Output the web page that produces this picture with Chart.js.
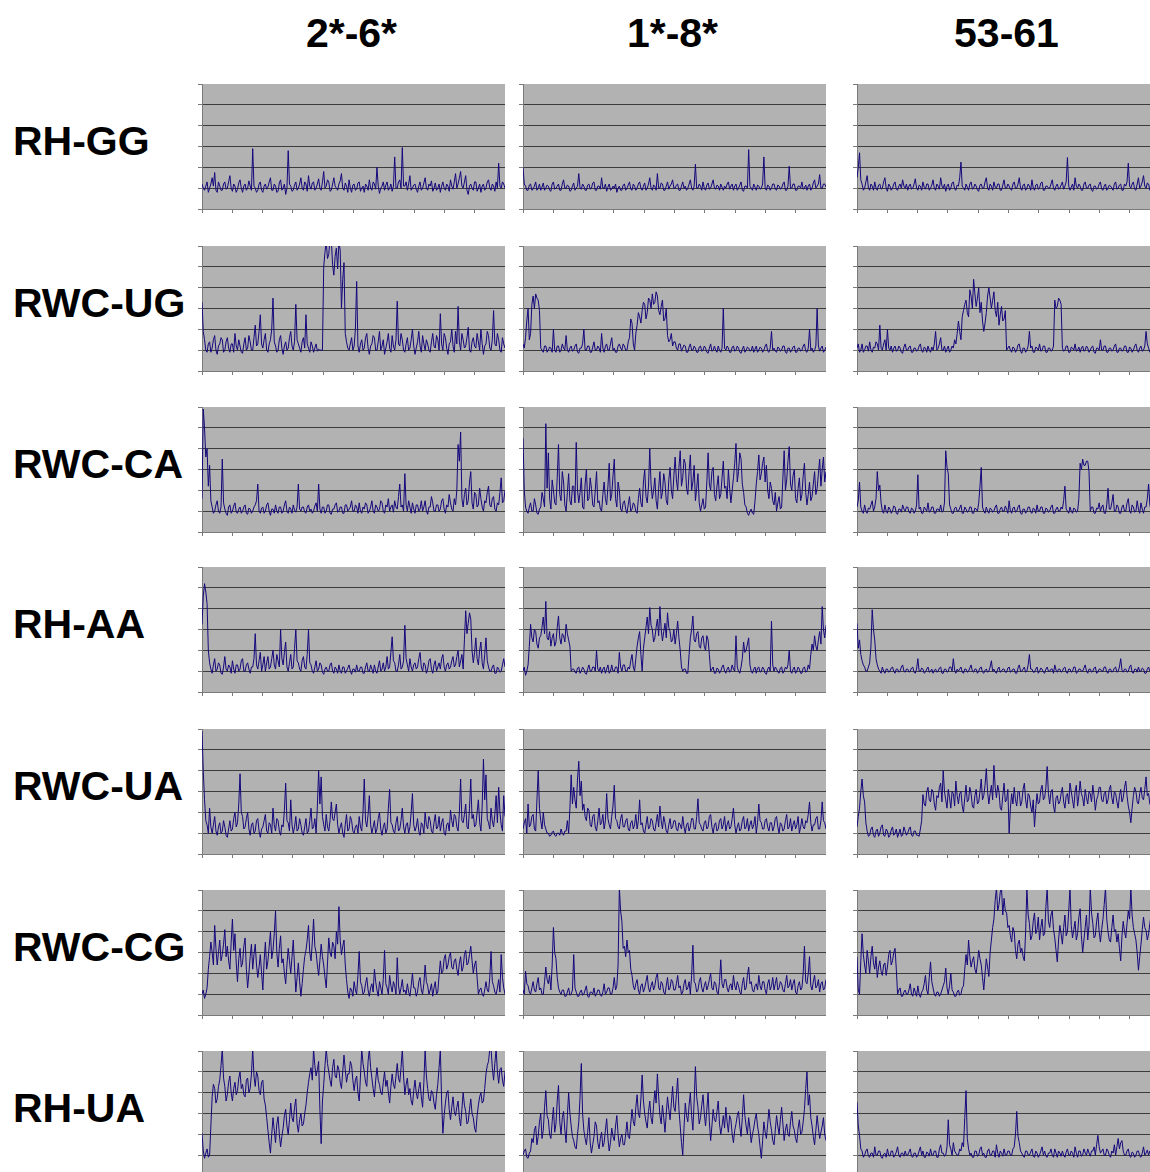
<!DOCTYPE html>
<html>
<head>
<meta charset="utf-8">
<script src="https://cdn.jsdelivr.net/npm/chart.js@4.4.1/dist/chart.umd.min.js"></script>
<style>
  body { margin: 0; background: #fff; width: 1150px; height: 1172px; overflow: hidden; position: relative; }
  .lbl { position: absolute; font: bold 41px "Liberation Sans", Arial, sans-serif; line-height: 41px; color: #000; white-space: nowrap; }
  .col { text-align: center; width: 200px; }
  canvas { position: absolute; }
</style>
</head>
<body>
<script>
// column / row headings
var columns = ['2*-6*', '1*-8*', '53-61'];
var rows = ['RH-GG', 'RWC-UG', 'RWC-CA', 'RH-AA', 'RWC-UA', 'RWC-CG', 'RH-UA'];

// RH-GG
var gg_26 = [1.2,1.0,0.9,1.1,1.3,0.8,1.0,1.2,1.5,1.1,1.75,0.9,0.8,1.3,1.1,0.9,0.9,1.2,1.3,0.95,1.0,1.3,1.6,1.0,0.85,1.2,1.1,0.8,0.95,1.25,1.4,1.0,0.8,1.1,1.2,0.9,1.0,1.35,1.1,0.9,
  2.9,1.1,1.0,0.8,0.9,1.2,1.3,0.9,0.8,1.1,1.2,0.95,1.05,1.3,1.5,0.9,0.9,1.2,1.1,0.8,0.85,1.25,1.4,0.9,1.0,1.2,0.7,1.0,2.8,1.2,1.1,0.85,0.9,1.15,1.3,0.9,1.0,1.2,1.5,1.0,
  0.9,1.3,1.2,0.85,1.6,1.1,0.95,1.25,1.3,0.9,1.0,1.2,1.45,1.0,0.9,1.3,1.8,1.0,1.1,1.4,1.3,0.85,0.9,1.2,1.5,1.1,1.0,0.9,1.2,1.35,1.7,1.0,0.9,1.25,1.1,0.8,1.4,1.0,0.8,1.15,
  1.2,0.9,0.95,1.25,1.3,0.85,1.0,1.1,0.8,1.2,1.1,0.9,1.4,1.0,0.9,1.3,1.2,0.95,2.0,1.1,0.75,1.0,1.1,1.3,0.9,1.15,1.3,0.9,1.0,1.2,0.85,1.1,2.5,1.0,1.0,1.3,1.4,1.0,2.95,1.1,
  1.1,1.3,0.9,1.2,1.6,0.9,1.0,1.15,1.2,0.95,0.8,1.1,1.3,0.9,1.0,1.25,1.5,1.0,0.9,1.2,1.1,1.35,0.85,1.0,1.25,0.9,1.0,1.2,0.8,1.1,1.3,1.0,0.9,1.2,1.1,0.85,1.4,1.1,0.95,1.3,
  1.7,1.0,1.2,1.5,1.8,1.1,1.0,1.3,1.6,0.9,0.7,1.1,1.2,1.0,0.9,1.3,1.3,0.85,1.0,1.2,0.8,1.1,1.2,0.9,1.0,1.3,1.4,1.0,0.9,1.2,1.1,0.85,1.3,1.0,2.2,1.1,1.0,1.3,1.2,1.0];
var gg_18 = [2.0,1.2,1.1,0.9,0.9,1.15,1.2,0.9,0.95,1.1,1.3,0.9,1.0,1.2,0.9,1.05,1.25,0.9,1.0,1.15,1.1,0.9,0.85,1.2,1.3,0.95,1.0,1.1,1.2,0.9,0.9,1.2,1.4,1.0,1.0,1.15,1.1,0.85,0.9,1.1,
  1.25,0.9,1.0,1.1,1.7,1.0,0.95,1.2,1.1,0.9,0.9,1.15,1.2,0.95,1.0,1.25,1.3,0.9,0.9,1.1,1.1,0.95,1.5,1.0,1.0,1.2,0.85,1.05,1.2,0.9,0.95,1.1,1.0,1.2,0.8,1.0,1.1,0.9,0.9,1.15,
  1.2,0.9,1.0,1.15,1.3,0.95,0.9,1.2,1.1,0.9,1.0,1.2,1.3,1.0,0.9,1.1,1.25,0.9,1.0,1.2,1.5,1.0,0.9,1.15,1.1,0.9,1.7,1.0,1.0,1.25,1.2,0.9,0.9,1.1,1.3,0.95,1.1,1.2,1.4,1.0,
  1.0,1.15,1.2,0.9,0.9,1.1,1.3,1.0,1.1,0.9,1.0,1.2,1.4,1.0,0.9,1.1,2.15,1.0,1.0,1.2,1.1,0.9,1.3,1.0,0.9,1.15,1.25,0.95,1.0,1.2,1.4,1.0,0.95,1.15,1.1,0.9,1.2,1.05,0.9,1.1,
  1.0,1.2,1.3,0.95,1.1,1.2,0.9,1.1,1.2,0.9,1.0,1.15,1.3,0.9,0.85,1.1,1.1,1.0,2.85,1.1,1.0,0.9,1.2,1.05,0.9,1.15,1.1,0.95,1.0,1.2,2.5,1.0,0.9,1.15,1.1,0.9,1.0,1.2,1.2,0.95,
  0.9,1.15,1.1,0.95,1.0,1.2,1.3,0.9,0.9,1.1,2.05,1.0,1.0,1.2,1.2,0.9,0.9,1.1,1.1,1.0,1.3,0.95,1.0,1.15,0.9,1.1,1.2,0.9,1.0,1.25,1.4,1.0,1.1,1.2,1.65,1.0,1.0,1.2,1.2,1.05];
var gg_5361 = [1.5,2.0,2.7,1.4,1.2,0.9,1.0,1.3,1.6,1.0,0.9,1.2,1.1,0.9,1.3,1.0,0.9,1.15,1.2,0.95,1.0,1.3,1.5,1.0,0.85,1.2,1.1,0.9,1.0,1.2,1.3,0.95,0.9,1.1,1.2,1.0,1.4,1.1,1.0,1.2,
  0.9,1.1,1.2,0.95,1.0,1.2,1.45,1.0,0.9,1.15,1.1,0.9,1.3,1.05,0.95,1.2,1.2,0.9,1.0,1.15,1.4,1.0,0.9,1.2,1.1,0.95,1.5,1.1,1.0,1.2,0.85,1.1,1.2,0.9,1.0,1.25,1.3,0.95,0.9,1.15,
  1.1,1.5,2.25,1.1,1.0,0.9,1.2,1.05,0.9,1.2,1.3,0.95,1.0,1.2,1.1,0.9,0.85,1.15,1.2,1.0,1.0,1.3,1.5,1.0,0.9,1.2,1.1,0.9,1.3,1.05,1.0,1.2,1.2,0.9,0.9,1.15,1.4,1.0,1.0,1.2,
  1.1,0.95,0.9,1.2,1.3,1.0,1.0,1.2,1.5,1.0,0.9,1.15,1.2,0.9,1.0,1.2,1.1,0.9,1.4,1.0,0.9,1.15,1.2,0.95,1.0,1.25,1.3,0.9,0.9,1.1,1.1,1.0,1.0,1.2,1.4,1.0,0.9,1.1,1.2,0.95,
  1.0,1.15,1.3,0.95,1.1,1.3,2.47,1.1,0.9,1.05,1.2,0.9,1.5,1.1,1.0,1.2,1.1,0.9,0.9,1.2,1.3,1.0,1.0,1.15,1.2,0.9,0.85,1.1,1.1,0.95,1.0,1.2,1.3,0.95,0.9,1.1,1.2,0.9,1.0,1.15,
  1.1,1.0,0.9,1.2,1.3,0.95,1.0,1.15,1.2,0.9,0.9,1.2,1.1,1.3,2.2,1.1,1.0,1.2,1.3,0.95,0.9,1.2,1.5,1.0,1.1,1.3,1.6,1.1,1.0,1.25,1.2,0.9,0.9,1.15,1.4,1.0,1.1,1.3,1.3,1.0];

// RWC-UG
var ug_26 = [3.3,1.9,1.5,1.0,0.9,1.3,1.4,0.9,1.1,1.5,1.7,1.0,0.8,1.2,1.3,1.6,1.5,0.9,1.0,1.4,1.6,1.1,0.9,1.3,1.3,0.9,1.8,1.2,1.0,1.5,1.2,0.9,0.85,1.3,1.6,1.0,1.1,1.7,1.4,1.0,
  1.0,1.6,2.2,1.2,1.3,1.9,2.7,1.3,1.1,1.5,1.8,1.0,0.9,1.3,1.5,2.0,3.5,1.4,1.2,0.9,1.0,1.5,1.7,1.1,0.8,1.2,1.4,1.0,1.1,1.6,1.9,1.2,1.0,1.4,3.2,1.5,1.3,1.1,0.9,1.4,
  1.6,1.1,2.7,1.3,1.1,0.9,1.4,1.2,0.9,1.1,1.3,0.95,1.05,1.0,1.0,1.0,5.0,5.7,6.2,5.4,5.6,6.4,6.3,5.1,4.6,5.5,5.9,4.9,6.2,5.8,3.0,4.4,5.2,1.8,1.4,1.1,1.0,1.3,1.6,1.0,
  1.2,2.0,4.3,1.2,0.9,1.3,1.5,1.0,1.1,1.6,1.8,1.1,0.8,1.2,1.3,1.7,1.6,1.0,1.0,1.4,1.9,1.0,1.2,1.5,0.8,1.1,1.4,1.8,1.1,0.9,1.7,1.2,1.0,1.5,3.35,1.3,1.2,1.8,1.5,1.0,
  0.9,1.3,1.6,1.0,1.1,1.5,2.0,1.2,0.8,1.1,1.4,1.9,1.2,0.9,1.7,1.3,1.0,1.5,1.3,1.0,0.9,1.4,1.8,1.2,1.1,1.7,1.5,1.0,2.75,1.3,1.0,1.8,1.6,1.1,0.8,1.3,1.4,2.0,1.2,0.9,
  1.9,1.3,3.1,1.4,1.0,1.8,1.5,1.1,1.2,1.6,2.1,1.0,0.9,1.4,1.6,1.2,1.1,1.8,1.4,1.0,2.0,1.3,0.8,1.2,1.3,1.9,1.7,1.1,1.0,1.5,2.9,1.3,1.2,1.8,1.5,1.0,0.9,1.6,1.3,1.1];
var ug_18 = [1.3,1.1,1.6,2.4,3.0,1.5,1.8,3.2,3.6,3.0,3.7,3.5,3.4,2.9,1.1,1.0,0.9,1.2,1.2,0.9,1.0,1.15,1.1,0.9,2.0,1.0,0.9,1.2,1.2,0.9,1.0,1.3,1.1,1.0,1.7,1.0,0.9,1.1,1.2,0.95,
  1.0,1.2,1.3,0.9,0.85,1.1,1.1,1.3,2.0,1.0,1.0,1.2,1.2,0.9,0.9,1.15,1.4,1.0,1.0,1.2,1.1,0.9,1.8,1.1,0.9,1.2,1.3,1.0,1.0,1.3,1.6,1.0,1.1,0.9,0.9,1.2,1.3,1.1,1.0,1.3,
  1.2,1.0,1.0,1.4,1.6,2.5,2.3,1.3,1.0,1.8,2.2,2.8,2.6,2.3,2.9,3.3,3.2,2.5,2.8,3.5,3.4,3.0,3.7,3.2,3.3,3.8,3.6,2.9,2.7,3.1,3.4,2.4,2.5,3.0,1.7,1.4,1.5,1.8,1.2,1.4,
  1.4,1.1,1.0,1.3,1.3,0.95,1.1,1.25,1.2,0.9,0.9,1.15,1.3,1.0,1.0,1.2,1.1,0.9,0.9,1.15,1.2,0.95,1.0,1.2,1.1,0.9,0.85,1.1,1.3,0.95,1.0,1.2,1.0,0.9,1.2,1.0,0.9,1.1,3.0,1.1,
  1.0,1.2,1.1,0.9,0.9,1.15,1.2,0.95,1.0,1.2,1.1,0.9,0.85,1.05,1.2,0.9,1.0,1.15,1.1,0.95,1.0,1.2,0.9,1.05,1.2,0.9,1.0,1.15,1.1,0.9,1.0,1.2,1.3,0.95,0.9,1.1,1.9,1.0,1.1,0.95,
  0.9,1.15,1.1,0.95,1.0,1.2,1.2,0.9,0.85,1.1,1.1,0.9,1.0,1.15,1.2,0.9,0.9,1.1,1.1,0.95,1.0,1.2,1.3,0.95,0.9,1.1,2.0,1.0,1.1,0.9,1.0,1.2,3.0,1.2,0.95,1.1,1.2,0.9,1.0,1.15];
var ug_5361 = [1.1,1.3,0.9,1.0,1.3,0.9,1.0,1.2,1.2,0.95,1.4,1.0,0.9,1.15,1.1,1.4,1.3,1.0,2.2,1.1,1.0,1.3,1.5,1.0,2.0,1.1,1.0,1.2,0.9,1.1,1.2,0.95,1.0,1.2,1.1,0.9,0.85,1.15,1.3,1.0,
  1.0,1.15,1.2,0.9,0.9,1.1,1.1,0.95,1.0,1.2,1.3,0.95,0.9,1.15,1.1,0.9,1.2,1.0,0.9,1.15,1.0,1.3,1.9,1.0,1.1,1.3,1.6,1.0,1.0,1.2,0.9,1.05,1.2,0.9,1.0,1.2,1.1,1.5,1.3,1.8,
  2.4,1.9,1.5,2.6,2.9,3.2,3.4,2.8,2.6,3.9,3.6,3.0,4.4,3.7,3.1,3.5,4.0,2.8,3.3,2.4,1.9,2.3,2.8,3.6,4.0,3.5,3.0,3.4,3.8,2.9,2.6,3.3,2.2,2.7,3.1,2.4,2.5,2.9,1.0,1.1,
  1.2,1.0,0.9,1.15,1.1,0.9,1.0,1.25,1.3,0.95,0.85,1.1,1.1,0.9,1.0,1.2,1.9,1.1,1.2,0.9,0.9,1.15,1.1,1.0,1.3,0.95,1.0,1.2,1.2,0.9,0.9,1.1,1.1,0.95,1.0,1.2,3.4,3.0,3.1,3.5,
  3.4,3.2,1.1,0.95,1.0,1.2,1.2,0.9,0.9,1.15,1.1,1.0,1.3,0.95,1.0,1.15,0.9,1.1,1.2,0.95,1.0,1.2,1.1,0.9,1.0,1.15,1.2,0.9,0.85,1.1,1.1,1.0,1.5,1.0,1.0,1.2,1.2,0.9,0.9,1.1,
  1.1,0.95,1.0,1.2,1.3,0.9,0.9,1.1,1.1,0.95,1.0,1.2,1.2,0.9,0.9,1.15,1.1,0.9,1.0,1.2,1.3,1.0,0.9,1.1,1.2,0.95,1.0,1.2,1.9,1.3,1.1,0.9,0.9,1.15,1.2,0.95,1.0,1.2,1.1,1.0];

// RWC-CA
var ca_26 = [1.6,5.9,5.0,3.6,4.0,2.2,3.2,1.5,1.2,0.9,1.0,1.3,1.5,1.0,0.9,1.2,3.5,1.4,1.1,0.9,0.8,1.2,1.3,0.9,1.0,1.25,1.4,0.95,0.9,1.1,1.2,0.9,1.0,1.2,1.3,0.9,0.85,1.15,1.1,0.9,
  1.0,1.2,1.3,1.5,2.3,1.0,0.9,1.15,1.2,0.9,1.0,1.3,1.4,1.0,0.8,1.1,1.1,0.9,1.3,1.0,0.9,1.2,1.2,0.9,1.0,1.3,1.5,1.0,0.9,1.2,1.1,0.9,1.3,1.05,0.95,1.2,2.3,1.1,1.0,1.2,
  1.2,0.95,0.9,1.2,1.3,1.0,1.1,0.9,1.0,1.25,1.4,1.0,2.3,1.1,0.9,1.2,1.2,0.9,1.0,1.3,1.3,0.9,0.85,1.1,1.1,1.3,1.4,0.95,1.0,1.2,1.2,0.9,0.9,1.3,1.3,1.0,1.1,1.2,1.5,1.0,
  1.0,1.3,1.2,0.9,1.4,1.0,0.9,1.2,1.1,1.4,1.3,0.9,1.0,1.2,1.5,1.0,0.9,1.3,1.2,1.0,1.1,1.5,1.4,1.0,0.9,1.3,1.2,1.6,1.0,1.2,1.3,0.95,1.5,1.2,1.1,1.7,2.3,1.2,1.3,1.0,
  2.8,1.3,1.0,1.5,1.2,0.9,1.4,1.1,0.9,1.3,1.3,1.0,1.1,1.5,1.0,1.2,1.5,1.0,0.85,1.2,1.2,1.7,1.4,1.0,1.0,1.3,1.3,1.0,1.1,1.5,1.6,1.1,0.9,1.3,1.2,1.8,1.4,1.1,1.0,1.6,
  1.3,2.0,4.2,3.4,4.8,1.6,1.2,1.8,2.1,1.3,1.5,2.4,2.9,1.4,1.1,1.9,1.8,1.2,1.3,2.1,1.6,1.2,1.0,1.5,1.4,1.9,2.2,1.3,1.2,1.6,1.7,1.1,1.0,1.4,1.3,1.9,2.6,1.4,1.5,2.0];
var ca_18 = [4.5,2.0,1.2,1.0,0.9,1.2,1.4,1.0,1.0,1.6,1.3,0.9,0.85,1.1,1.2,1.9,1.6,1.2,5.2,2.1,3.8,1.6,1.1,2.5,2.0,1.4,1.3,2.6,4.2,1.8,1.5,2.9,2.4,1.3,1.0,1.9,2.8,1.5,1.3,2.2,
  2.2,1.4,4.3,2.0,1.4,1.9,2.6,1.2,1.1,2.3,3.0,1.5,1.6,2.6,2.1,1.3,1.2,2.0,2.9,1.4,1.5,1.1,1.0,1.8,2.4,1.6,1.3,2.2,3.3,1.5,1.8,2.7,3.5,1.6,1.2,2.4,2.0,1.1,1.0,1.4,
  1.5,1.1,0.9,1.3,1.7,1.0,1.1,1.4,1.3,1.0,0.9,1.6,2.1,1.4,1.2,2.4,3.0,1.7,1.4,2.2,4.0,2.3,1.6,2.0,2.6,1.5,1.1,2.1,2.9,1.6,1.9,2.8,2.4,1.5,1.3,2.5,3.1,2.0,1.6,2.7,
  3.6,2.5,2.0,3.1,3.9,2.2,2.6,3.5,3.3,2.1,1.8,2.9,3.7,2.0,2.4,3.2,1.5,2.1,2.8,1.4,1.0,1.3,1.6,1.1,1.2,2.4,3.8,2.3,2.0,2.9,3.1,1.8,1.5,2.2,2.7,1.6,1.8,2.6,3.4,2.1,
  2.2,1.6,3.0,2.1,1.4,2.0,2.6,3.3,4.25,2.4,2.9,3.8,3.5,2.3,1.9,1.3,1.2,0.9,0.8,1.0,1.1,0.9,0.85,1.5,2.3,2.9,3.7,2.5,2.8,3.3,3.6,2.4,3.2,2.0,1.6,2.4,2.1,1.5,1.3,1.9,
  1.0,1.4,1.7,1.1,1.2,2.6,3.9,2.0,2.5,3.4,4.1,2.3,2.0,2.7,3.0,1.6,1.4,2.1,2.6,1.5,1.8,2.7,3.3,1.9,1.3,1.8,2.4,1.5,1.7,2.3,2.9,1.8,2.1,2.8,3.5,2.2,3.0,3.6,2.4,2.9];
var ca_5361 = [1.2,1.5,2.4,1.2,1.0,0.9,1.3,1.0,0.9,1.15,1.1,1.3,1.5,1.0,1.2,1.6,2.9,2.0,2.25,1.4,1.0,0.9,1.3,1.0,0.9,1.2,1.1,0.9,1.0,1.25,1.2,0.9,0.85,1.1,1.1,0.95,1.3,1.1,1.0,1.2,
  1.2,0.95,0.9,1.15,1.1,0.9,1.0,1.3,2.75,1.1,1.2,0.9,0.9,1.2,1.1,1.0,1.4,0.95,1.0,1.2,1.2,0.9,0.9,1.1,1.1,1.0,1.3,0.95,1.0,1.4,3.9,3.1,2.8,1.3,1.1,0.9,0.9,1.15,1.2,1.0,
  1.0,1.15,1.3,0.9,0.9,1.2,1.1,0.95,1.0,1.2,1.2,0.9,0.9,1.15,1.1,1.0,1.4,2.2,3.1,1.2,1.0,0.9,1.2,1.0,0.9,1.15,1.1,0.95,1.0,1.2,1.3,0.9,0.9,1.1,1.2,1.0,1.0,1.25,1.1,0.9,
  1.5,1.0,0.9,1.15,1.2,0.95,1.0,1.2,1.3,0.9,0.85,1.1,1.1,0.9,1.0,1.2,1.2,0.95,0.9,1.15,1.1,0.9,1.3,1.0,1.0,1.2,1.2,0.9,0.9,1.15,1.1,0.95,1.0,1.2,1.3,0.9,0.9,1.1,1.2,1.0,
  1.0,1.2,1.1,1.5,2.2,1.1,1.0,0.9,1.2,1.0,0.9,1.15,1.1,0.95,1.0,1.6,3.3,3.0,3.5,3.2,3.2,3.4,3.4,2.9,1.0,1.2,1.2,0.9,0.9,1.15,1.1,1.4,1.0,1.2,1.3,0.9,0.9,1.3,2.1,1.1,
  1.1,1.4,1.8,1.0,1.0,1.3,1.2,0.9,0.9,1.2,1.3,1.0,1.0,1.4,1.6,1.0,0.9,1.3,1.2,0.95,1.0,1.5,1.1,0.9,1.4,1.1,0.9,1.2,1.2,1.6,2.3,1.3,1.0,1.4,1.5,1.0,0.85,1.3,1.2,1.7];

// RH-AA
var aa_26 = [3.25,4.6,5.2,4.8,4.25,2.0,1.4,1.1,0.9,1.3,1.6,1.0,1.1,1.4,1.3,0.9,0.85,1.2,1.7,1.1,1.0,1.3,1.2,0.9,1.5,1.1,0.9,1.3,1.3,1.0,1.1,1.5,1.6,1.0,1.0,1.3,1.4,1.1,0.9,1.2,
  1.2,1.6,2.8,1.3,1.1,1.5,1.9,1.0,1.3,1.7,1.0,1.4,1.7,1.1,1.2,1.6,2.0,1.3,1.1,1.8,1.5,1.2,3.0,1.6,1.3,1.9,2.4,1.2,1.0,1.4,1.8,1.1,1.2,2.1,3.0,1.5,1.4,1.1,1.0,1.5,
  1.7,1.2,1.1,1.8,3.0,1.4,1.3,1.0,0.9,1.2,1.5,1.0,1.1,1.4,1.3,0.95,0.85,1.1,1.2,1.0,1.0,1.3,1.4,1.0,0.9,1.2,1.1,0.9,1.3,1.0,0.9,1.2,1.2,0.9,1.0,1.15,1.3,1.0,0.85,1.1,
  1.1,0.95,1.3,1.0,1.0,1.2,1.2,0.9,0.9,1.2,1.4,1.0,1.0,1.3,1.1,0.9,1.3,1.0,0.9,1.2,1.5,1.0,1.1,1.4,1.0,1.2,1.7,1.1,1.2,1.9,2.65,1.5,1.4,1.0,1.0,1.3,1.8,1.1,1.2,1.5,
  3.2,1.6,1.3,1.0,1.6,1.2,1.0,1.3,1.4,1.1,1.2,1.6,1.9,1.2,1.0,1.4,1.3,0.9,1.1,1.5,1.6,1.1,0.9,1.3,1.5,1.0,1.2,1.4,1.1,1.6,1.8,1.2,1.0,1.3,1.4,1.1,1.2,1.5,1.7,1.2,
  1.3,1.7,2.0,1.2,1.5,1.8,1.1,2.5,3.9,2.8,3.3,3.8,3.5,2.0,1.4,1.9,2.6,1.6,1.3,2.0,2.4,1.4,1.1,1.8,2.6,1.5,1.2,1.0,1.0,1.2,1.3,0.9,0.9,1.2,1.1,0.95,1.0,1.3,1.6,1.2];
var aa_18 = [1.0,1.2,0.8,1.0,1.3,2.2,3.25,2.6,2.4,3.0,2.9,2.3,2.1,2.6,2.7,3.1,3.6,2.8,4.35,2.6,2.5,2.9,2.2,2.6,2.8,2.2,2.4,3.1,3.65,2.6,2.3,2.8,2.7,2.4,3.25,2.8,2.5,2.2,1.0,1.1,
  1.1,0.95,0.9,1.15,1.2,0.9,1.0,1.2,1.1,0.9,0.85,1.1,1.3,1.0,1.0,1.2,1.2,1.0,2.0,1.1,1.0,1.2,0.9,1.1,1.2,0.9,1.1,1.3,0.9,1.0,1.3,1.0,1.0,1.2,1.2,0.9,1.9,1.2,1.0,1.3,
  1.3,1.0,1.0,1.2,1.1,1.5,1.8,1.2,1.0,1.6,2.2,2.6,2.9,1.8,1.0,2.1,2.6,3.1,3.6,2.8,4.05,3.2,3.0,2.4,2.6,3.1,3.5,2.7,4.1,3.0,2.45,2.9,3.3,2.6,3.8,3.1,2.9,2.4,2.5,3.0,
  2.3,2.8,3.4,2.6,2.0,1.2,1.0,1.1,1.1,0.9,0.9,1.8,2.6,3.0,3.65,2.5,2.4,2.8,2.9,2.2,2.1,2.6,2.7,2.2,2.0,2.7,2.5,1.8,1.0,1.1,1.2,0.9,0.9,1.15,1.1,0.9,1.0,1.2,1.3,1.0,
  0.9,1.1,1.2,0.95,1.0,1.3,1.1,1.0,2.7,1.2,1.0,0.9,1.2,1.6,2.4,1.9,2.0,2.3,2.6,1.3,1.0,0.9,1.1,1.2,0.9,1.15,1.2,0.95,1.0,1.2,1.1,0.9,0.85,1.1,1.2,1.0,3.4,1.3,1.0,1.2,
  1.1,0.95,0.9,1.15,1.2,0.9,1.0,1.2,1.1,1.3,2.0,1.0,0.9,1.1,1.2,0.9,1.0,1.2,1.1,0.9,0.9,1.15,1.2,0.95,1.0,1.3,1.1,1.8,2.3,2.0,2.7,2.2,2.0,2.5,2.9,2.3,4.1,3.0,2.6,3.2];
var aa_5361 = [3.3,2.1,2.5,1.8,1.5,1.3,1.2,1.0,1.0,1.2,1.4,2.2,3.95,3.0,2.5,1.6,1.3,1.1,1.0,0.9,1.2,1.0,0.9,1.1,1.1,0.95,1.0,1.15,1.2,1.0,0.9,1.1,1.1,0.95,1.0,1.2,1.3,1.0,0.95,1.1,
  1.1,0.95,1.0,1.15,1.2,0.95,0.9,1.1,1.6,1.0,1.0,1.15,1.1,0.9,0.95,1.1,1.2,0.95,1.0,1.1,0.9,1.05,1.1,0.95,1.0,1.15,1.2,0.9,0.9,1.1,1.1,0.95,1.0,1.2,1.2,1.0,1.6,1.05,0.9,1.1,
  1.0,1.1,1.2,0.95,0.9,1.1,1.1,0.95,1.0,1.15,1.3,1.0,0.95,1.1,1.1,0.9,1.0,1.15,1.2,0.95,0.9,1.05,1.1,0.95,1.0,1.2,1.5,1.0,1.1,0.95,0.9,1.1,1.2,0.95,1.0,1.1,1.1,0.95,0.95,1.15,
  1.2,0.95,1.0,1.1,1.1,0.9,0.9,1.15,1.3,1.0,1.0,1.1,1.2,0.95,1.0,1.3,1.8,1.1,1.1,0.95,0.95,1.1,1.2,0.9,1.0,1.15,1.1,0.95,0.9,1.1,1.2,1.0,1.0,1.1,1.1,0.9,1.3,1.05,0.95,1.1,
  1.1,0.95,1.0,1.15,1.2,0.95,0.9,1.1,1.1,0.95,1.0,1.2,1.2,0.9,0.95,1.1,1.1,1.0,1.0,1.15,1.3,1.0,0.9,1.1,1.1,0.95,1.0,1.15,1.2,0.9,0.95,1.1,1.1,1.0,1.0,1.2,1.2,0.95,0.9,1.1,
  1.1,0.95,1.0,1.15,1.2,0.95,1.0,1.2,1.6,1.05,0.95,1.1,1.1,0.95,1.0,1.2,1.3,0.95,0.9,1.1,1.1,0.95,1.2,1.0,1.0,1.15,1.1,0.9,0.9,1.1,1.2,1.0,1.0,1.15,1.1,0.95,0.95,1.1,1.2,1.0];

// RWC-UA
var ua_26 = [5.9,4.0,2.6,1.6,1.4,1.0,2.2,1.3,1.0,1.4,1.8,1.1,0.9,1.3,1.5,1.0,1.1,1.6,1.3,0.9,0.8,1.2,1.6,1.1,1.2,1.7,2.0,1.3,1.5,2.4,3.85,2.0,1.8,1.2,1.3,1.7,2.0,1.2,0.9,1.4,
  1.5,1.0,1.1,1.6,1.7,1.1,0.8,1.2,1.3,1.6,1.9,1.1,1.0,1.5,1.4,1.0,2.2,1.4,1.1,1.7,1.6,1.1,0.9,1.4,1.3,2.1,3.4,1.6,1.5,1.1,2.6,1.4,1.0,1.3,1.8,1.1,1.2,1.7,1.4,1.0,
  0.9,1.3,1.7,1.0,1.1,1.6,2.2,1.2,1.3,1.7,1.0,2.3,4.0,2.4,3.7,1.8,1.4,1.1,1.9,1.3,1.1,1.6,2.5,1.7,1.6,2.0,2.4,1.4,1.0,1.3,1.5,1.0,0.8,1.4,1.9,1.1,1.2,1.8,1.6,1.1,
  1.0,1.3,1.4,1.0,1.8,1.3,1.1,2.0,3.6,1.6,1.3,1.9,2.8,1.4,1.0,1.3,1.6,1.0,1.2,1.7,2.0,1.2,0.9,1.3,1.5,1.0,1.2,2.2,3.1,1.5,1.4,1.1,1.0,1.5,1.8,1.1,1.2,1.6,2.2,1.3,
  1.0,1.4,1.5,1.0,1.3,2.0,2.9,1.4,1.1,1.3,1.7,1.1,0.9,1.5,1.4,1.0,2.0,1.4,1.2,1.8,1.6,1.1,1.0,1.5,1.9,1.2,1.3,1.8,1.1,1.5,1.7,1.0,0.9,1.4,1.5,1.1,2.1,1.6,1.3,1.9,
  1.8,1.3,1.1,2.0,3.6,1.6,1.5,1.9,2.4,1.3,1.2,2.2,3.6,1.7,1.9,1.3,1.4,2.0,2.6,1.5,1.1,2.3,4.55,2.6,3.8,1.7,1.5,1.2,2.2,1.6,1.3,1.9,2.8,1.5,3.2,2.0,1.4,1.1,2.8,1.8];
var ua_18 = [1.2,1.5,1.7,1.0,2.4,1.3,1.4,1.8,1.9,1.2,1.1,2.6,4.0,2.2,1.6,1.2,2.0,1.4,1.2,1.0,1.0,0.85,0.9,1.05,1.1,0.9,0.85,1.0,1.0,0.9,1.2,1.0,0.9,1.1,1.1,1.6,1.0,2.2,3.8,2.4,
  3.2,2.6,2.2,3.6,4.45,2.8,3.5,2.1,2.4,1.8,1.6,2.2,2.1,1.4,1.3,1.8,1.9,1.3,1.1,1.6,2.2,1.4,1.5,1.9,1.2,1.6,2.9,1.7,1.4,1.2,1.8,2.3,3.3,1.7,1.6,1.3,1.2,1.7,1.9,1.3,
  1.3,1.6,1.7,1.2,1.1,1.5,1.6,1.2,1.4,1.9,1.2,1.6,2.6,1.4,1.5,1.1,1.0,1.4,1.8,1.2,1.3,1.7,1.6,1.2,1.1,1.5,1.9,1.3,2.3,1.6,1.2,1.8,1.5,1.1,1.0,1.4,1.7,1.2,1.3,1.6,
  1.6,1.2,1.1,1.5,1.4,1.2,1.8,1.3,1.0,1.4,1.5,1.1,1.3,1.7,1.7,1.2,1.2,1.8,2.65,1.5,1.4,1.2,1.1,1.5,1.6,1.2,1.3,1.8,1.9,1.3,1.0,1.4,1.5,1.1,1.2,1.6,1.7,1.2,1.4,1.8,
  1.1,1.4,1.6,1.2,1.3,1.7,2.2,1.4,1.0,1.3,1.5,1.1,1.2,1.6,1.8,1.2,1.3,1.7,1.1,1.4,1.6,1.2,1.4,1.8,1.0,1.5,2.4,1.6,1.5,1.2,1.2,1.6,1.7,1.3,1.1,1.5,1.5,1.1,1.3,1.7,
  1.8,1.3,1.0,1.5,1.4,1.1,1.2,1.6,1.9,1.2,1.3,1.7,1.1,1.4,1.6,1.2,1.4,1.8,1.0,1.3,1.7,1.3,1.2,1.6,1.5,1.9,2.5,1.5,1.1,1.4,1.4,1.7,1.8,1.2,1.2,1.6,2.5,1.6,1.5,1.2];
var ua_5361 = [1.3,1.8,2.2,3.0,3.6,2.8,2.5,1.5,1.1,0.85,0.9,1.2,1.3,0.9,0.8,1.1,1.2,0.85,1.0,1.3,1.4,0.9,0.85,1.2,1.1,0.8,0.9,1.15,1.3,0.9,1.0,1.2,0.8,1.0,1.2,0.85,0.9,1.3,1.1,0.9,
  1.0,1.2,1.3,0.9,0.85,1.1,1.1,0.9,0.9,0.85,1.2,1.6,2.85,2.4,2.3,3.0,3.2,2.6,2.5,3.1,3.0,2.4,2.1,2.8,2.7,3.2,3.4,2.5,4.0,3.0,2.6,2.2,3.1,2.7,2.2,3.0,2.9,2.3,3.5,2.8,
  2.4,2.9,3.0,2.3,2.0,2.7,3.3,2.5,2.6,3.2,2.9,2.3,2.2,2.8,3.1,2.4,2.5,3.0,3.6,2.6,2.8,3.3,4.1,3.0,2.4,2.9,3.3,2.6,4.25,3.2,2.7,3.3,3.0,2.2,2.1,2.8,3.4,2.5,2.6,3.1,
  1.0,2.2,2.9,2.4,3.2,2.6,2.3,3.0,3.0,2.3,2.5,3.1,3.4,2.6,2.2,2.9,2.8,2.3,2.0,2.6,1.3,2.2,2.9,2.4,2.5,3.1,3.3,2.6,2.7,3.2,4.2,2.9,2.4,3.0,3.1,2.3,2.0,2.7,2.8,2.4,
  2.5,2.9,3.2,2.5,2.2,2.8,2.9,2.4,3.4,3.0,2.6,2.2,3.0,3.3,2.3,2.8,3.5,2.9,2.7,2.3,3.1,2.7,2.4,3.0,2.9,2.5,3.3,2.8,2.1,2.6,2.8,3.2,3.2,2.6,2.5,2.9,3.0,2.4,2.6,3.1,
  3.3,2.7,2.4,3.0,2.9,2.5,2.2,2.8,3.1,2.5,2.7,3.2,3.5,2.8,2.3,2.0,1.5,2.2,2.8,3.2,3.0,2.5,2.4,2.9,3.2,2.7,2.6,3.1,3.7,2.8,2.9,2.4,2.3,2.9,3.1,2.6,2.7,3.2,3.4,2.8];

// RWC-CG
var cg_26 = [1.0,1.2,0.8,1.0,1.3,2.2,2.8,3.5,3.0,2.4,4.3,3.2,2.4,3.0,3.6,2.6,2.9,3.4,4.1,2.8,3.3,2.6,2.2,3.5,4.6,3.1,3.9,2.5,1.6,2.7,3.2,2.3,2.5,3.3,3.7,2.2,1.3,2.0,2.8,3.4,
  2.2,2.9,3.4,2.4,1.8,2.3,2.9,2.0,1.2,2.6,3.5,2.2,2.6,3.3,4.0,2.7,3.1,3.9,5.0,3.0,2.3,3.2,3.8,2.5,2.7,2.0,1.5,2.4,3.2,2.6,2.0,2.8,3.6,2.3,1.1,1.8,2.5,1.6,0.9,1.5,
  2.2,2.8,3.1,3.6,4.3,3.0,2.6,3.5,4.6,3.3,3.0,2.4,1.9,2.6,3.4,2.8,2.4,1.8,1.3,2.5,3.7,3.0,2.8,3.5,3.3,2.7,4.0,3.4,5.2,3.6,2.9,3.3,3.6,2.4,1.7,1.1,0.8,1.3,1.2,0.9,
  1.6,1.2,1.0,1.9,3.05,1.6,1.4,1.0,1.1,1.5,1.8,1.2,0.9,1.3,1.5,1.1,2.2,1.6,1.2,0.9,1.6,1.3,1.0,1.7,3.1,1.5,1.3,1.0,1.9,1.4,1.1,1.6,1.4,1.0,2.75,1.4,1.0,1.3,1.7,1.1,
  1.2,1.0,1.5,1.1,0.9,1.4,2.0,1.3,1.3,0.9,1.1,1.6,1.8,1.2,1.0,1.5,2.4,1.6,1.4,1.0,1.2,1.5,0.9,1.3,1.6,1.0,1.1,1.9,2.6,2.0,2.1,2.7,2.9,2.2,2.4,2.8,3.0,2.3,2.2,2.6,
  2.7,2.2,1.9,2.5,2.8,2.1,2.3,2.9,3.1,2.4,2.5,2.9,3.3,2.6,2.0,2.4,2.6,1.8,1.0,1.2,1.3,1.0,0.9,1.2,1.6,1.2,1.1,1.8,3.05,1.6,1.4,1.1,1.0,1.3,1.7,1.1,2.9,1.8,1.3,1.0];
var cg_18 = [1.2,1.0,2.1,1.5,1.4,1.1,1.0,1.3,1.6,1.2,1.1,1.5,1.8,1.2,1.3,1.0,1.0,1.6,2.3,1.7,1.5,1.9,1.2,2.4,4.2,3.0,2.7,1.8,1.3,1.1,1.0,1.2,1.2,0.9,0.9,1.1,1.3,0.95,1.0,1.2,
  2.9,1.3,1.1,0.9,0.9,1.1,1.2,0.95,1.0,1.2,1.4,0.9,0.85,1.1,1.1,1.0,1.3,0.9,1.0,1.2,1.2,0.95,0.9,1.1,1.5,1.0,1.1,1.3,1.3,1.0,1.0,1.3,1.8,1.2,1.4,2.4,6.1,5.0,4.5,3.2,
  3.3,2.8,3.6,3.0,3.1,2.2,1.9,1.4,1.2,1.5,1.7,1.2,1.0,1.4,1.5,1.1,1.3,1.6,1.9,1.3,1.1,1.4,1.6,1.2,1.4,1.8,2.0,1.3,1.2,1.6,1.5,1.1,1.0,1.4,1.8,1.2,1.3,1.7,1.6,1.2,
  1.2,1.5,1.9,1.3,1.4,1.0,1.1,1.5,1.7,1.2,1.3,1.6,1.0,1.9,3.35,1.6,1.5,1.1,1.2,1.6,1.8,1.3,1.1,1.4,1.6,1.2,1.4,1.7,2.0,1.3,1.2,1.6,1.5,1.1,1.0,1.6,2.65,1.5,1.3,1.7,
  1.7,1.3,1.1,1.4,1.5,1.2,1.9,1.4,1.2,1.6,1.4,1.1,1.0,1.5,1.8,1.2,1.3,1.9,2.3,1.5,1.6,1.2,1.1,1.4,1.5,1.2,1.9,1.4,1.2,1.6,1.6,1.2,1.0,1.5,1.7,1.2,1.4,1.8,1.2,1.5,
  1.8,1.2,1.3,1.6,1.5,1.2,1.1,1.5,1.9,1.3,1.4,1.7,1.2,1.5,1.7,1.1,1.0,1.4,1.6,1.2,1.3,2.0,3.3,1.6,1.5,2.0,2.8,1.4,1.2,1.6,1.9,1.3,1.4,1.7,1.1,1.5,1.6,1.2,1.3,1.7];
var cg_5361 = [2.8,1.2,1.0,2.6,3.9,2.9,2.4,2.0,3.1,2.6,2.0,2.8,3.3,2.5,2.2,2.8,1.8,2.3,2.6,2.1,1.9,2.4,2.5,1.9,2.3,2.9,3.1,2.4,2.6,3.0,3.2,2.2,1.0,1.2,1.3,0.9,0.9,1.1,1.2,1.0,
  1.0,1.2,1.5,1.0,0.9,1.3,1.1,0.9,1.4,1.0,0.85,1.1,1.2,1.5,1.9,1.2,1.0,1.8,2.55,1.6,1.3,1.0,0.9,1.1,1.1,0.9,1.0,1.2,1.4,1.6,2.25,1.3,1.0,1.4,2.0,1.2,1.1,0.9,0.9,1.1,
  1.2,0.95,1.0,1.3,1.4,2.2,2.9,2.4,3.6,2.8,2.3,2.6,2.8,2.2,2.0,2.5,3.1,2.7,2.4,1.8,1.2,2.0,2.7,2.3,1.85,3.0,3.6,4.2,4.6,5.5,6.1,5.0,5.3,5.9,6.1,4.8,5.6,5.0,4.9,4.2,
  4.3,3.8,3.5,4.2,4.0,3.1,2.7,3.4,3.6,3.0,3.2,2.8,2.6,4.0,6.1,4.8,4.4,3.6,3.8,4.5,4.9,3.9,4.1,4.7,3.6,4.2,4.6,3.8,3.9,5.2,6.1,4.5,4.2,4.8,5.0,4.1,3.7,3.1,2.55,3.6,
  4.3,3.9,3.4,4.2,4.8,3.8,4.0,5.0,6.1,4.3,3.7,4.1,4.5,3.6,3.9,4.7,5.1,3.8,3.0,3.6,4.2,4.8,3.6,4.3,6.1,4.9,4.4,3.7,3.8,4.5,4.9,4.0,3.5,4.1,4.6,5.3,6.1,4.6,4.0,3.6,
  3.5,4.2,4.8,4.0,4.1,3.5,3.9,3.2,2.6,3.8,4.5,4.0,3.7,4.4,5.0,4.6,6.1,4.8,4.2,3.9,3.6,3.0,2.15,2.8,3.4,4.1,4.7,4.2,4.05,3.6,3.9,4.4,4.8,4.0,4.3,4.9,5.1,4.4,4.5,4.9];

// RH-UA
var rua_26 = [2.05,1.2,0.85,1.1,1.3,0.9,1.0,2.4,3.8,4.4,4.2,3.5,3.7,4.3,4.6,5.3,6.1,4.7,4.3,3.6,3.9,4.5,4.8,4.0,3.6,4.2,4.5,3.9,4.1,4.7,5.0,4.2,4.4,3.9,3.8,4.6,4.7,4.0,4.2,4.9,
  6.1,4.8,4.3,5.0,4.8,4.1,3.9,4.5,4.6,3.7,3.4,2.8,2.2,1.6,1.1,2.0,2.8,2.2,1.6,2.5,2.85,2.0,1.4,1.9,2.3,2.9,3.2,2.4,2.0,2.7,3.5,2.8,2.6,3.3,3.7,2.5,2.1,2.7,3.0,2.4,
  2.5,3.0,3.4,4.0,4.5,4.9,5.2,4.6,6.1,5.3,4.8,5.1,5.5,3.2,1.55,3.6,4.4,5.3,6.1,5.4,5.0,4.6,4.3,5.2,5.6,4.8,4.7,5.3,5.1,4.5,4.2,5.0,5.8,5.1,4.5,4.9,4.9,5.5,5.3,4.6,
  4.1,4.6,4.8,4.0,3.6,4.8,6.1,5.4,5.0,4.5,4.3,5.5,6.1,5.2,4.7,4.2,3.8,4.6,5.2,4.6,4.4,4.0,3.9,4.5,5.0,4.3,4.6,4.0,3.5,4.3,4.9,4.4,4.2,4.8,5.4,4.7,4.5,5.2,6.1,4.8,
  3.9,4.4,4.7,3.9,4.2,3.6,3.4,4.1,4.6,4.0,3.7,4.2,4.5,3.8,3.3,4.5,6.1,4.8,4.2,3.7,3.6,4.1,4.0,3.5,3.2,3.9,4.4,5.2,6.1,3.6,2.05,2.9,3.5,4.0,4.1,3.2,2.7,3.3,3.8,3.1,
  2.9,3.3,3.6,2.8,2.4,3.2,4.0,3.4,3.1,2.5,2.6,3.2,3.7,3.0,2.8,2.3,2.1,2.9,3.4,3.8,4.0,3.5,3.6,4.2,4.9,5.3,5.5,6.1,6.1,5.2,4.6,5.4,6.1,5.0,4.45,5.1,5.2,4.6,4.3,5.0];
var rua_18 = [1.0,1.2,1.3,0.9,0.85,1.1,1.2,1.8,1.6,2.2,2.4,1.5,1.9,2.6,3.0,1.8,2.2,3.3,4.1,2.9,2.7,2.0,1.8,2.6,3.3,2.1,2.5,3.6,4.35,2.6,2.0,2.8,3.1,2.2,1.6,2.9,4.0,3.0,2.4,1.9,
  1.7,1.4,1.3,2.0,2.6,3.8,5.4,3.0,2.2,1.8,1.5,2.1,2.8,1.6,1.1,1.5,1.9,2.6,2.4,1.6,1.3,1.8,2.1,1.4,1.6,2.2,2.75,1.8,1.2,1.6,2.3,1.9,1.7,2.4,2.9,2.0,1.4,1.8,2.0,1.5,
  1.5,2.0,2.6,1.9,1.8,2.5,3.2,2.6,2.4,3.3,3.9,3.0,2.8,3.7,4.85,3.6,3.0,2.6,2.3,3.1,3.6,2.8,2.5,3.4,4.1,3.5,4.9,3.8,2.9,2.5,3.4,2.8,2.1,3.0,3.8,3.2,2.7,3.5,4.3,3.3,
  3.1,3.9,4.7,3.2,2.4,1.6,1.0,2.3,3.5,2.9,2.6,3.4,4.0,2.9,2.2,3.6,5.25,3.8,3.3,2.5,2.8,3.4,3.9,3.0,2.4,3.2,4.0,2.6,1.7,2.4,3.2,2.7,2.6,3.1,3.6,2.5,2.0,2.4,2.9,2.3,
  3.3,2.6,2.1,2.9,2.7,2.0,1.6,2.2,2.5,2.9,3.1,2.4,1.9,2.8,3.9,2.9,2.4,2.0,2.8,2.3,1.6,2.0,2.3,2.7,3.0,2.4,2.0,1.4,0.85,1.7,2.6,2.1,1.8,2.5,3.2,2.6,2.2,1.7,1.5,2.2,
  2.9,2.4,2.0,2.7,3.3,2.5,1.7,2.2,2.5,2.0,1.9,2.6,3.1,2.4,2.2,1.8,1.6,2.3,2.7,2.0,2.1,2.6,3.2,4.2,5.0,3.4,3.9,2.8,2.4,1.9,1.5,2.2,2.9,2.3,1.8,2.1,2.4,2.8,2.0,1.7];
var rua_5361 = [3.55,2.4,1.95,1.3,1.2,0.9,1.0,1.2,1.3,0.95,0.9,1.1,1.1,0.9,1.4,1.0,1.0,1.2,1.2,0.9,0.85,1.05,1.1,0.9,1.3,1.0,0.95,1.2,1.2,0.9,1.0,1.15,1.4,1.0,0.9,1.1,1.1,0.95,1.2,1.0,
  1.0,1.15,1.3,0.95,0.9,1.1,1.1,0.9,1.0,1.2,1.4,1.0,1.2,0.9,0.9,1.15,1.1,0.95,1.3,1.0,1.0,1.2,1.2,0.9,0.9,1.3,1.5,1.1,1.1,0.95,1.0,1.4,2.7,1.5,1.3,1.0,1.6,1.2,1.1,1.0,
  1.0,1.3,1.2,1.6,1.4,2.8,4.1,1.8,1.3,1.0,1.1,0.9,0.9,1.2,1.2,0.95,1.0,1.3,1.4,1.0,1.1,0.9,0.9,1.2,1.3,1.0,1.0,1.2,1.2,0.9,1.5,1.1,0.9,1.2,1.1,0.95,1.3,1.0,1.0,1.2,
  1.2,1.0,1.0,1.3,1.4,2.0,3.1,1.9,1.6,1.2,1.1,0.95,0.9,1.2,1.2,1.0,1.0,1.15,1.3,0.95,0.9,1.2,1.1,0.9,1.0,1.2,1.4,1.0,1.2,0.95,0.9,1.1,1.1,1.3,1.0,0.9,1.3,1.1,0.9,1.2,
  1.1,0.95,1.2,1.0,0.9,1.15,1.3,1.0,1.0,1.2,1.1,0.9,1.4,1.1,0.9,1.2,1.2,0.95,1.0,1.3,1.1,1.0,1.3,1.1,0.95,1.2,1.2,1.4,1.0,1.5,1.95,1.4,1.1,1.2,1.3,1.0,1.0,1.3,1.2,1.0,
  0.9,1.2,1.1,1.5,1.0,1.4,1.8,1.3,1.6,1.7,1.2,1.0,1.0,1.2,1.3,0.95,0.9,1.15,1.1,0.9,1.0,1.2,1.2,0.95,0.9,1.1,1.4,1.0,1.1,1.25,1.0,1.2,1.2,0.9,0.9,1.15,1.3,1.0,1.1,1.2];

var grid = [
  [gg_26, gg_18, gg_5361],
  [ug_26, ug_18, ug_5361],
  [ca_26, ca_18, ca_5361],
  [aa_26, aa_18, aa_5361],
  [ua_26, ua_18, ua_5361],
  [cg_26, cg_18, cg_5361],
  [rua_26, rua_18, rua_5361]
];

// panel placement
var colLeft = [202, 523, 857];
var rowTop = [84, 246, 407, 567, 729, 890, 1051];
var plotW = 303, plotH = 125, tick = 4;

// grey plot background
var plotBg = {
  id: 'plotBg',
  beforeDraw: function(chart) {
    var a = chart.chartArea, c = chart.ctx;
    c.save();
    c.fillStyle = '#b2b2b2';
    c.fillRect(a.left, a.top, a.right - a.left, a.bottom - a.top);
    c.restore();
  }
};

function addText(txt, cls, left, top) {
  var d = document.createElement('div');
  d.className = 'lbl ' + cls;
  d.textContent = txt;
  d.style.left = left + 'px';
  d.style.top = top + 'px';
  document.body.appendChild(d);
}

columns.forEach(function(t, c) {
  addText(t, 'col', colLeft[c] + plotW / 2 - 102, 13);
});
rows.forEach(function(t, r) {
  addText(t, '', 13, rowTop[r] + 37);
});

function makePanel(values, r, c) {
  var cv = document.createElement('canvas');
  var w = plotW + tick, h = plotH + tick;
  cv.width = w; cv.height = h;
  cv.style.width = w + 'px'; cv.style.height = h + 'px';
  cv.style.left = (colLeft[c] - tick) + 'px';
  cv.style.top = rowTop[r] + 'px';
  document.body.appendChild(cv);
  var n = values.length;
  new Chart(cv, {
    type: 'line',
    data: {
      datasets: [{
        data: values.map(function(v, i) { return { x: i, y: v }; }),
        borderColor: '#14087c',
        borderWidth: 1,
        pointRadius: 0,
        tension: 0
      }]
    },
    options: {
      animation: false,
      responsive: false,
      events: [],
      layout: { padding: 0 },
      plugins: { legend: { display: false }, tooltip: { enabled: false } },
      scales: {
        x: {
          type: 'linear', min: 0, max: n - 1,
          afterBuildTicks: function(s) {
            var t = [];
            for (var k = 0; k <= 10; k++) t.push({ value: (n - 1) * k / 10 });
            s.ticks = t;
          },
          ticks: { display: false },
          grid: { drawOnChartArea: false, drawTicks: true, tickLength: tick, color: '#7a7a7a' },
          border: { color: '#7a7a7a' }
        },
        y: {
          min: 0, max: 6,
          ticks: { display: false, stepSize: 1 },
          grid: {
            color: function(ctx) { return (ctx.tick.value === 0 || ctx.tick.value === 6) ? 'rgba(0,0,0,0)' : '#3c3c3c'; },
            tickColor: '#7a7a7a',
            tickLength: tick
          },
          border: { color: '#7a7a7a' }
        }
      }
    },
    plugins: [plotBg]
  });
}

grid.forEach(function(row, r) {
  row.forEach(function(vals, c) { makePanel(vals, r, c); });
});
</script>
</body>
</html>
